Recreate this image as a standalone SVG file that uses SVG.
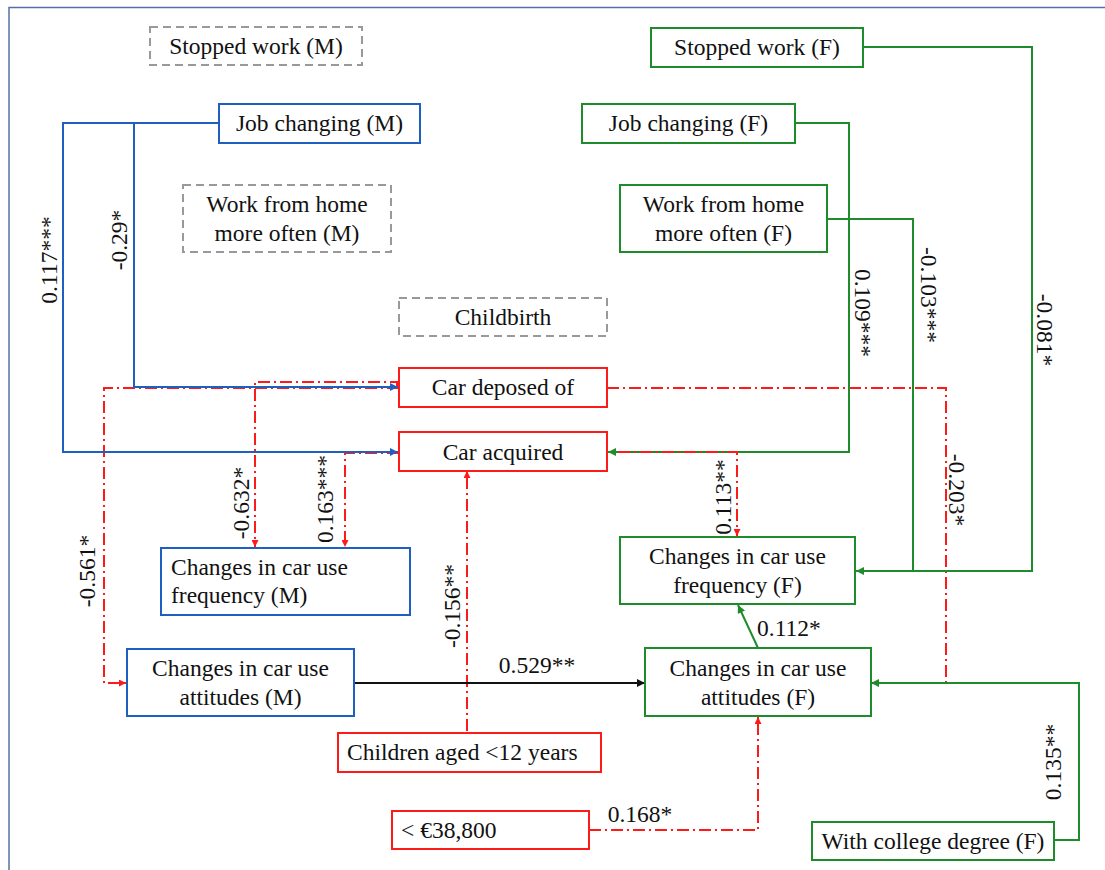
<svg xmlns="http://www.w3.org/2000/svg" width="1105" height="870" viewBox="0 0 1105 870">
<style>
text{font-family:"Liberation Serif","Times New Roman",serif;font-size:23.5px;fill:#111}
.c{text-anchor:middle}
.bm{fill:#fff;stroke:#1f5fbf;stroke-width:2}
.bf{fill:#fff;stroke:#1e8c2a;stroke-width:2}
.br{fill:#fff;stroke:#ff1a1a;stroke-width:2}
.bg{fill:#fff;stroke:#999;stroke-width:2;stroke-dasharray:8 5}
.lm{fill:none;stroke:#1f5fbf;stroke-width:2}
.lf{fill:none;stroke:#1e8c2a;stroke-width:2}
.lr{fill:none;stroke:#ff1a1a;stroke-width:2;stroke-dasharray:12 4 2 4}
.lk{fill:none;stroke:#111;stroke-width:1.8}
</style>
<defs>
<marker id="ab" viewBox="0 0 10 10" refX="10" refY="5" markerWidth="9" markerHeight="8" markerUnits="userSpaceOnUse" orient="auto"><path d="M0,0 L10,5 L0,10 z" fill="#1f5fbf"/></marker>
<marker id="ag" viewBox="0 0 10 10" refX="10" refY="5" markerWidth="9" markerHeight="8" markerUnits="userSpaceOnUse" orient="auto"><path d="M0,0 L10,5 L0,10 z" fill="#1e8c2a"/></marker>
<marker id="ar" viewBox="0 0 10 10" refX="10" refY="5" markerWidth="8" markerHeight="7" markerUnits="userSpaceOnUse" orient="auto"><path d="M0,0 L10,5 L0,10 z" fill="#ff1a1a"/></marker>
<marker id="ak" viewBox="0 0 10 10" refX="10" refY="5" markerWidth="9" markerHeight="8" markerUnits="userSpaceOnUse" orient="auto"><path d="M0,0 L10,5 L0,10 z" fill="#111"/></marker>
</defs>
<rect width="1105" height="870" fill="#fff"/>
<path d="M9,870 V7.5 H1105" fill="none" stroke="#5570a8" stroke-width="1.5"/>

<g id="connectors">
<!-- red dash-dot -->
<path class="lr" d="M399,388 H104 V683 H126" marker-end="url(#ar)"/>
<path class="lr" d="M397,387 V382 H255 V547" marker-end="url(#ar)"/>
<path class="lr" d="M399,453 H345 V547" marker-end="url(#ar)"/>
<path class="lr" d="M467,731 V471" marker-end="url(#ar)"/>
<path class="lr" d="M607,388 H946 V683 H872" marker-end="url(#ar)"/>
<path class="lr" d="M589,830 H758 V717" marker-end="url(#ar)"/>
<!-- blue -->
<path class="lm" d="M219,123 H63 V452 H398" marker-end="url(#ab)"/>
<path class="lm" d="M134,123 V387 H398" marker-end="url(#ab)"/>
<!-- green -->
<path class="lf" d="M863,47 H1032 V571 H856" marker-end="url(#ag)"/>
<path class="lf" d="M795,123 H849 V452 H608" marker-end="url(#ag)"/>
<path class="lf" d="M827,219 H913 V571"/>
<path class="lf" d="M1055,840 H1079 V683 H871" marker-end="url(#ag)"/>
<path class="lf" d="M758,648 L738,605" marker-end="url(#ag)"/>
<path class="lr" d="M618,452 H737 V536" marker-end="url(#ar)"/>
<!-- black -->
<path class="lk" d="M354,683 H645" marker-end="url(#ak)"/>
<!-- labels -->
<text class="c" transform="translate(57,260) rotate(-90)">0.117***</text>
<text class="c" transform="translate(127,240) rotate(-90)">-0.29*</text>
<text class="c" transform="translate(249,503) rotate(-90)">-0.632*</text>
<text class="c" transform="translate(333,499) rotate(-90)">0.163***</text>
<text class="c" transform="translate(95,571) rotate(-90)">-0.561*</text>
<text class="c" transform="translate(460,606) rotate(-90)">-0.156**</text>
<text class="c" transform="translate(731,497) rotate(-90)">0.113**</text>
<text class="c" transform="translate(1061,762) rotate(-90)">0.135**</text>
<text class="c" transform="translate(855,313) rotate(90)">0.109***</text>
<text class="c" transform="translate(921,295) rotate(90)">-0.103***</text>
<text class="c" transform="translate(1037,330) rotate(90)">-0.081*</text>
<text class="c" transform="translate(949,490) rotate(90)">-0.203*</text>
<text class="c" x="537" y="673">0.529**</text>
<text class="c" x="640" y="822">0.168*</text>
<text class="c" x="789" y="636">0.112*</text>
</g>

<g id="stopped-m"><rect class="bg" x="150" y="27" width="212" height="38"/><text class="c" x="256" y="54">Stopped work (M)</text></g>
<g id="job-m"><rect class="bm" x="219" y="104" width="201" height="39"/><text class="c" x="319.5" y="131">Job changing (M)</text></g>
<g id="wfh-m"><rect class="bg" x="183" y="185" width="208" height="67"/><text class="c" x="287" y="212">Work from home</text><text class="c" x="287" y="241">more often (M)</text></g>
<g id="childbirth"><rect class="bg" x="399" y="298" width="208" height="38"/><text class="c" x="503" y="325">Childbirth</text></g>
<g id="car-deposed"><rect class="br" x="399" y="368" width="208" height="39"/><text class="c" x="503" y="395">Car deposed of</text></g>
<g id="car-acquired"><rect class="br" x="399" y="432" width="208" height="39"/><text class="c" x="503" y="460">Car acquired</text></g>
<g id="freq-m"><rect class="bm" x="161" y="548" width="249" height="67"/><text x="171" y="575">Changes in car use</text><text x="171" y="603">frequency (M)</text></g>
<g id="att-m"><rect class="bm" x="127" y="649" width="227" height="67"/><text class="c" x="240.5" y="676">Changes in car use</text><text class="c" x="240.5" y="705">attitudes (M)</text></g>
<g id="children"><rect class="br" x="338" y="733" width="263" height="39"/><text x="347" y="760">Children aged &lt;12 years</text></g>
<g id="income"><rect class="br" x="392" y="811" width="197" height="38"/><text x="401" y="838">&lt; €38,800</text></g>
<g id="stopped-f"><rect class="bf" x="651" y="28" width="212" height="39"/><text class="c" x="757" y="55">Stopped work (F)</text></g>
<g id="job-f"><rect class="bf" x="582" y="104" width="213" height="39"/><text class="c" x="688.5" y="131">Job changing (F)</text></g>
<g id="wfh-f"><rect class="bf" x="620" y="185" width="207" height="67"/><text class="c" x="723.5" y="212">Work from home</text><text class="c" x="723.5" y="241">more often (F)</text></g>
<g id="freq-f"><rect class="bf" x="620" y="537" width="235" height="67"/><text class="c" x="737.5" y="564">Changes in car use</text><text class="c" x="737.5" y="593">frequency (F)</text></g>
<g id="att-f"><rect class="bf" x="645" y="648" width="226" height="68"/><text class="c" x="758" y="676">Changes in car use</text><text class="c" x="758" y="705">attitudes (F)</text></g>
<g id="college-f"><rect class="bf" x="812" y="822" width="242" height="38"/><text class="c" x="933" y="849">With college degree (F)</text></g>
</svg>
